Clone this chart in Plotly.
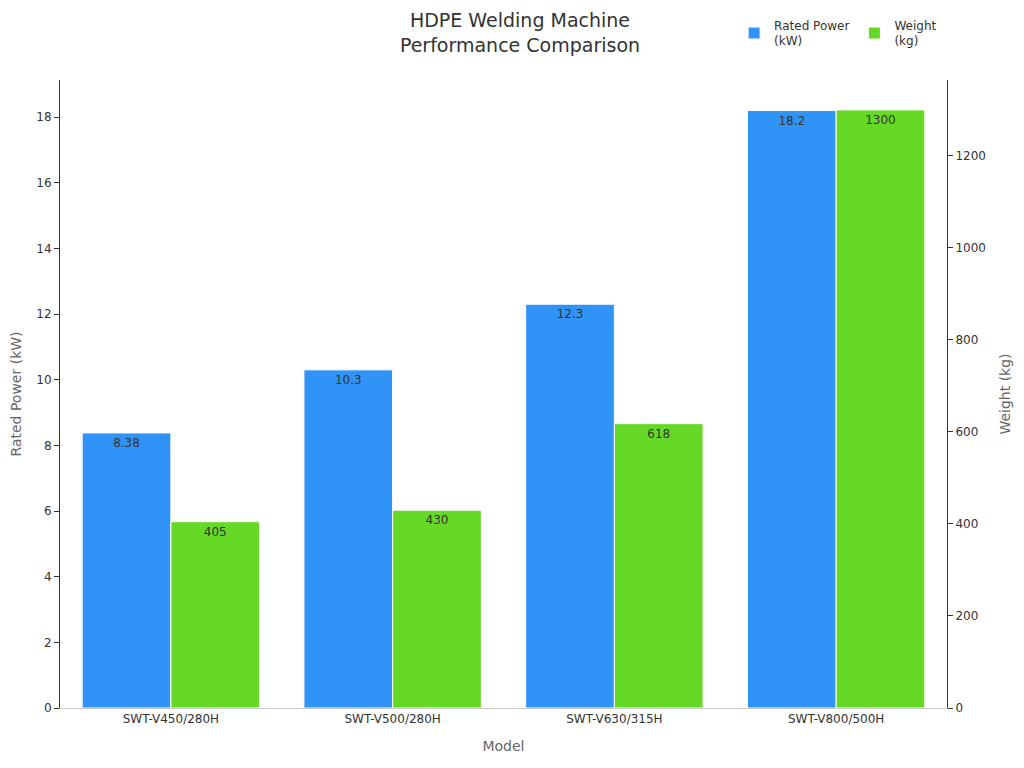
import plotly.graph_objects as go

models = ["SWT-V450/280H", "SWT-V500/280H", "SWT-V630/315H", "SWT-V800/500H"]
power = [8.38, 10.3, 12.3, 18.2]
weight = [405, 430, 618, 1300]
power_labels = ["8.38", "10.3", "12.3", "18.2"]
weight_labels = ["405", "430", "618", "1300"]

fig = go.Figure()
fig.add_trace(go.Bar(x=models, y=power, name="Rated Power<br>(kW)", marker=dict(color="#2f93f8", line=dict(color="white", width=1)),
                     text=power_labels, textposition="inside", insidetextanchor="end",
                     textfont=dict(color="#333333", size=12), offsetgroup="1", yaxis="y"))
fig.add_trace(go.Bar(x=models, y=weight, name="Weight<br>(kg)", marker=dict(color="#66d926", line=dict(color="white", width=1)),
                     text=weight_labels, textposition="inside", insidetextanchor="end",
                     textfont=dict(color="#333333", size=12), offsetgroup="2", yaxis="y2"))

fig.update_layout(
    width=1024, height=768,
    font=dict(family="DejaVu Sans", size=12, color="#333333"),
    plot_bgcolor="white", paper_bgcolor="white",
    margin=dict(l=52, r=85, t=72, b=68, autoexpand=False),
    barmode="group", bargap=0.2, bargroupgap=0,
    title=dict(text="HDPE Welding Machine<br>Performance Comparison", x=0.5, xanchor="center", y=0.975, yanchor="top",
               font=dict(size=19, color="#333333")),
    xaxis=dict(title=dict(text="Model", font=dict(size=14, color="#666666")), showline=True, linecolor="#cccccc",
               ticks="", tickfont=dict(size=12)),
    yaxis=dict(title=dict(text="Rated Power (kW)", font=dict(size=14, color="#666666")), range=[0, 19.13], dtick=2,
               showgrid=False, showline=True, linecolor="#333333", ticks="outside", ticklen=5, tickcolor="#333333",
               zeroline=False),
    yaxis2=dict(title=dict(text="Weight (kg)", font=dict(size=14, color="#666666")), range=[0, 1365], dtick=200,
                overlaying="y", side="right", showgrid=False, showline=True, linecolor="#333333",
                ticks="outside", ticklen=5, tickcolor="#333333", zeroline=False),
    legend=dict(orientation="h", x=0.76, y=1.11, xanchor="left", yanchor="top", font=dict(size=12)),
    uniformtext=dict(mode="show", minsize=12),
)
fig.update_traces(cliponaxis=False)
fig.write_html("out.html")
